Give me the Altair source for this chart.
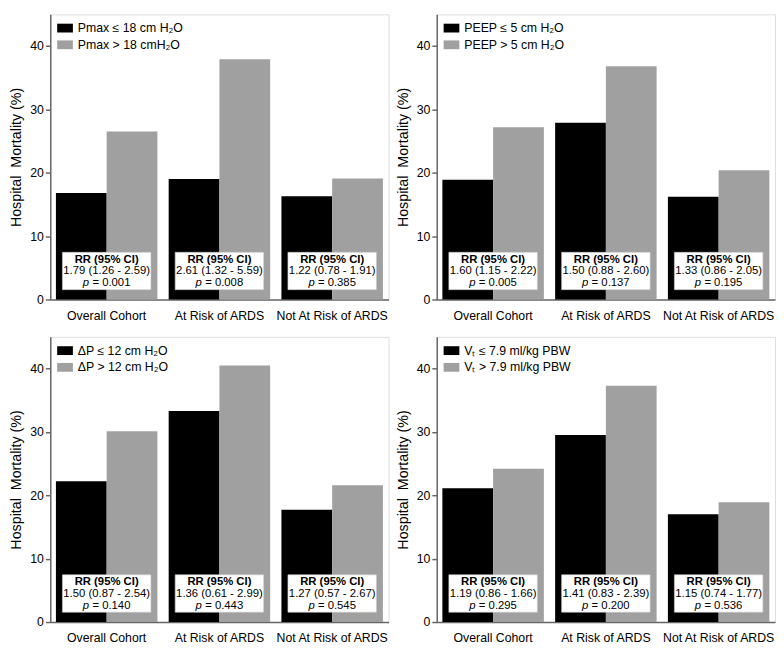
import altair as alt
import pandas as pd

groups = ["Overall Cohort", "At Risk of ARDS", "Not At Risk of ARDS"]

p1_labels = ["Pmax ≤ 18 cm H₂O", "Pmax > 18 cmH₂O"]
p1_low = [16.8, 19.0, 16.3]
p1_high = [26.5, 37.9, 19.1]
p1_rr = ["1.79 (1.26 - 2.59)", "2.61 (1.32 - 5.59)", "1.22 (0.78 - 1.91)"]
p1_p = ["0.001", "0.008", "0.385"]

p2_labels = ["PEEP ≤ 5 cm H₂O", "PEEP > 5 cm H₂O"]
p2_low = [18.9, 27.9, 16.2]
p2_high = [27.2, 36.8, 20.4]
p2_rr = ["1.60 (1.15 - 2.22)", "1.50 (0.88 - 2.60)", "1.33 (0.86 - 2.05)"]
p2_p = ["0.005", "0.137", "0.195"]

p3_labels = ["ΔP ≤ 12 cm H₂O", "ΔP > 12 cm H₂O"]
p3_low = [22.2, 33.3, 17.7]
p3_high = [30.1, 40.5, 21.6]
p3_rr = ["1.50 (0.87 - 2.54)", "1.36 (0.61 - 2.99)", "1.27 (0.57 - 2.67)"]
p3_p = ["0.140", "0.443", "0.545"]

p4_labels = ["Vₜ ≤ 7.9 ml/kg PBW", "Vₜ > 7.9 ml/kg PBW"]
p4_low = [21.1, 29.5, 17.0]
p4_high = [24.2, 37.3, 18.9]
p4_rr = ["1.19 (0.86 - 1.66)", "1.41 (0.83 - 2.39)", "1.15 (0.74 - 1.77)"]
p4_p = ["0.295", "0.200", "0.536"]

W = 344
H = 290
FONT = "Liberation Sans, Arial, sans-serif"
AXIS_GRAY = "#666666"
RR_FS = 11.5


def panel(labels, low, high, rr, pv):
    bars = pd.DataFrame({
        "group": groups * 2,
        "series": [labels[0]] * 3 + [labels[1]] * 3,
        "value": low + high,
    })
    ann = pd.DataFrame({
        "group": groups,
        "head": ["RR (95% CI)"] * 3,
        "rr": rr,
        "pchar": ["p"] * 3,
        "prest": ["= " + v for v in pv],
    })
    xenc = alt.X(
        "group:N", sort=groups,
        scale=alt.Scale(paddingInner=0.1, paddingOuter=0.05),
        axis=alt.Axis(title=None, labelAngle=0, ticks=False, labelFontSize=12.5,
                      labelPadding=10, domainColor=AXIS_GRAY, domainWidth=1.5,
                      labelColor="black", labelFont=FONT),
    )
    b = alt.Chart(bars).mark_bar().encode(
        x=xenc,
        xOffset=alt.XOffset("series:N", sort=labels,
                            scale=alt.Scale(paddingInner=0, paddingOuter=0)),
        y=alt.Y("value:Q", scale=alt.Scale(domain=[0, 45], nice=False),
                axis=alt.Axis(title="Hospital\u00a0 Mortality (%)", values=[0, 10, 20, 30, 40],
                              grid=False, tickSize=5, labelPadding=2, titlePadding=6,
                              titleFontSize=14.5, titleFontWeight="normal", labelFontSize=12.5,
                              domainColor=AXIS_GRAY, tickColor=AXIS_GRAY, domainWidth=1.5,
                              tickWidth=1.5, labelColor="black", titleColor="black",
                              labelFont=FONT, titleFont=FONT)),
        color=alt.Color("series:N", sort=labels,
                        scale=alt.Scale(domain=labels, range=["#000000", "#a0a0a0"]),
                        legend=alt.Legend(title=None, orient="none", legendX=7, legendY=6,
                                          symbolType="M-1,-0.56L1,-0.56L1,0.56L-1,0.56Z",
                                          symbolSize=256, symbolStrokeWidth=0,
                                          symbolOpacity=1, labelFontSize=12.5,
                                          labelOffset=5, rowPadding=2, padding=0,
                                          labelLimit=300, labelFont=FONT,
                                          labelColor="black")),
    )
    xg = alt.X("group:N", sort=groups)
    box = alt.Chart(ann).mark_rect(width=90, color="white", stroke="#c8c8c8",
                                   strokeWidth=0.6).encode(
        x=xg, y=alt.value(H - 48), y2=alt.value(H - 10))
    t1 = alt.Chart(ann).mark_text(fontSize=RR_FS, fontWeight="bold", baseline="middle",
                                  font=FONT, color="black").encode(
        x=xg, y=alt.value(H - 40.5), text="head:N")
    t2 = alt.Chart(ann).mark_text(fontSize=RR_FS, baseline="middle", font=FONT,
                                  color="black").encode(
        x=xg, y=alt.value(H - 28.5), text="rr:N")
    t3a = alt.Chart(ann).mark_text(fontSize=RR_FS, fontStyle="italic", baseline="middle",
                                   align="right", dx=-17.8, font=FONT, color="black").encode(
        x=xg, y=alt.value(H - 16.5), text="pchar:N")
    t3b = alt.Chart(ann).mark_text(fontSize=RR_FS, baseline="middle", align="left",
                                   dx=-14.5, font=FONT, color="black").encode(
        x=xg, y=alt.value(H - 16.5), text="prest:N")
    return alt.layer(b, box, t1, t2, t3a, t3b).properties(width=W, height=H)


top = alt.hconcat(panel(p1_labels, p1_low, p1_high, p1_rr, p1_p),
                  panel(p2_labels, p2_low, p2_high, p2_rr, p2_p),
                  spacing=5).resolve_scale(color="independent", xOffset="independent")
bottom = alt.hconcat(panel(p3_labels, p3_low, p3_high, p3_rr, p3_p),
                     panel(p4_labels, p4_low, p4_high, p4_rr, p4_p),
                     spacing=5).resolve_scale(color="independent", xOffset="independent")

chart = alt.vconcat(top, bottom, spacing=14).resolve_scale(
    color="independent", xOffset="independent"
).properties(padding=0).configure_view(stroke=None).configure(font=FONT)

chart.save("out.html", embed_options={"renderer": "svg", "actions": False})
